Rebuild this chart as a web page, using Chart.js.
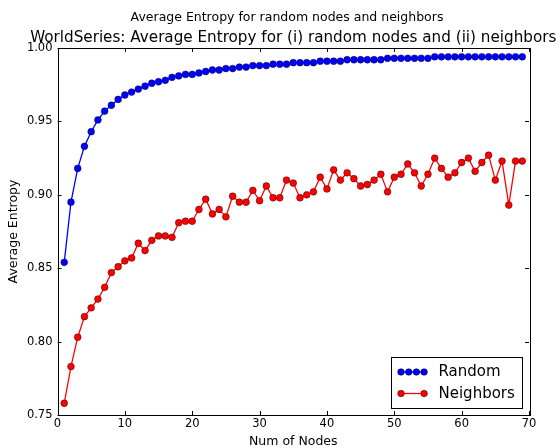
<!DOCTYPE html>
<html>
<head>
<meta charset="utf-8">
<script src="https://cdn.jsdelivr.net/npm/chart.js@4/dist/chart.umd.min.js"></script>
<style>
  html, body { margin: 0; padding: 0; background: #fff; }
  #wrap { width: 560px; height: 448px; }
</style>
</head>
<body>
<div id="wrap"><canvas id="entropyChart" width="560" height="448"></canvas></div>
<script>
// values
const nodes = [
  1, 2, 3, 4, 5, 6, 7, 8, 9, 10, 11, 12, 13, 14, 15, 16, 17, 18, 19, 20,
  21, 22, 23, 24, 25, 26, 27, 28, 29, 30, 31, 32, 33, 34, 35, 36, 37, 38, 39, 40,
  41, 42, 43, 44, 45, 46, 47, 48, 49, 50, 51, 52, 53, 54, 55, 56, 57, 58, 59, 60,
  61, 62, 63, 64, 65, 66, 67, 68, 69
];
const randomEntropy = [
  0.854, 0.895, 0.918, 0.933, 0.943, 0.951, 0.957, 0.961, 0.965, 0.968,
  0.970, 0.972, 0.974, 0.976, 0.977, 0.978, 0.980, 0.981, 0.982, 0.982,
  0.983, 0.984, 0.985, 0.985, 0.986, 0.986, 0.987, 0.987, 0.988, 0.988,
  0.988, 0.989, 0.989, 0.989, 0.990, 0.990, 0.990, 0.990, 0.991, 0.991,
  0.991, 0.991, 0.992, 0.992, 0.992, 0.992, 0.992, 0.992, 0.993, 0.993,
  0.993, 0.993, 0.993, 0.993, 0.993, 0.994, 0.994, 0.994, 0.994, 0.994,
  0.994, 0.994, 0.994, 0.994, 0.994, 0.994, 0.994, 0.994, 0.994
];
const neighborEntropy = [
  0.758, 0.783, 0.803, 0.817, 0.823, 0.829, 0.837, 0.847, 0.851, 0.855,
  0.857, 0.867, 0.862, 0.869, 0.872, 0.872, 0.871, 0.881, 0.882, 0.882,
  0.890, 0.897, 0.887, 0.890, 0.885, 0.899, 0.895, 0.895, 0.903, 0.896,
  0.906, 0.898, 0.898, 0.910, 0.908, 0.898, 0.900, 0.902, 0.912, 0.904,
  0.917, 0.910, 0.915, 0.911, 0.906, 0.907, 0.910, 0.914, 0.902, 0.912,
  0.914, 0.921, 0.915, 0.906, 0.914, 0.925, 0.918, 0.912, 0.915, 0.922,
  0.925, 0.916, 0.922, 0.927, 0.910, 0.923, 0.893, 0.923, 0.923
];
const xTicks = [0, 10, 20, 30, 40, 50, 60, 70];
const yTicks = [0.75, 0.80, 0.85, 0.90, 0.95, 1.00];
const figTitle = "Average Entropy for random nodes and neighbors";
const axTitle = "WorldSeries: Average Entropy for (i) random nodes and (ii) neighbors";

const FONT = "'DejaVu Sans', sans-serif";

// figure title + axes title (the axes title is wider than the plot, so Chart.js would squeeze it)
const titles = {
  id: "titles",
  afterDraw(chart) {
    const { ctx, chartArea: a } = chart;
    ctx.save();
    ctx.fillStyle = "#000";
    ctx.textAlign = "center";
    ctx.textBaseline = "middle";
    ctx.font = "12.5px " + FONT;
    ctx.fillText(figTitle, 287, 17.5);
    ctx.font = "15.2px " + FONT;
    ctx.fillText(axTitle, (a.left + a.right) / 2, 38.5);
    ctx.restore();
  },
};

// frame + inward ticks on all four sides, like the classic matplotlib axes
const frameTicks = {
  id: "frameTicks",
  afterDatasetsDraw(chart) {
    const { ctx, chartArea: a, scales } = chart;
    const len = 4;
    ctx.save();
    ctx.strokeStyle = "#000";
    ctx.lineWidth = 1;
    ctx.beginPath();
    xTicks.forEach((t) => {
      const px = Math.round(scales.x.getPixelForValue(t)) + 0.5;
      ctx.moveTo(px, a.bottom);
      ctx.lineTo(px, a.bottom - len);
      ctx.moveTo(px, a.top);
      ctx.lineTo(px, a.top + len);
    });
    yTicks.forEach((t) => {
      const py = Math.round(scales.y.getPixelForValue(t)) + 0.5;
      ctx.moveTo(a.left, py);
      ctx.lineTo(a.left + len, py);
      ctx.moveTo(a.right, py);
      ctx.lineTo(a.right - len, py);
    });
    ctx.stroke();
    ctx.strokeRect(Math.round(a.left) + 0.5, Math.round(a.top) + 0.5,
      Math.round(a.right - a.left), Math.round(a.bottom - a.top));
    ctx.restore();
  },
};

// legend box in the lower right corner of the plot
const cornerLegend = {
  id: "cornerLegend",
  afterDraw(chart) {
    const { ctx, chartArea: a } = chart;
    const w = 131, h = 51;
    const x0 = Math.round(a.right - 7 - w) + 0.5;
    const y0 = Math.round(a.bottom - 7 - h) + 0.5;
    ctx.save();
    ctx.fillStyle = "#fff";
    ctx.strokeStyle = "#000";
    ctx.lineWidth = 1;
    ctx.fillRect(x0, y0, w, h);
    ctx.strokeRect(x0, y0, w, h);

    const rows = [
      { label: "Random", color: "#0000ff", dots: [0, 7.7, 15.4, 23.1] },
      { label: "Neighbors", color: "#ff0000", dots: [0, 23.1] },
    ];
    rows.forEach((r, i) => {
      const cy = y0 + 14.5 + i * 21.5;
      const sx = x0 + 9.5;
      ctx.strokeStyle = r.color;
      ctx.lineWidth = 1.3;
      ctx.beginPath();
      ctx.moveTo(sx, cy);
      ctx.lineTo(sx + 23.1, cy);
      ctx.stroke();
      r.dots.forEach((d) => {
        ctx.beginPath();
        ctx.arc(sx + d, cy, 3.3, 0, Math.PI * 2);
        ctx.fillStyle = r.color;
        ctx.fill();
        ctx.strokeStyle = "#000";
        ctx.lineWidth = 0.5;
        ctx.stroke();
      });
      ctx.fillStyle = "#000";
      ctx.font = "15px " + FONT;
      ctx.textBaseline = "middle";
      ctx.textAlign = "left";
      ctx.fillText(r.label, x0 + 47, cy + 0.5);
    });
    ctx.restore();
  },
};

const ctx = document.getElementById("entropyChart").getContext("2d");
new Chart(ctx, {
  type: "line",
  data: {
    datasets: [
      {
        label: "Random",
        data: nodes.map((n, i) => ({ x: n, y: randomEntropy[i] })),
        borderColor: "#0000ff",
        backgroundColor: "#0000ff",
        pointBackgroundColor: "#0000ff",
        pointBorderColor: "#000033",
        pointBorderWidth: 0.5,
        pointRadius: 3.4,
        borderWidth: 1.3,
        tension: 0,
        order: 2,
      },
      {
        label: "Neighbors",
        data: nodes.map((n, i) => ({ x: n, y: neighborEntropy[i] })),
        borderColor: "#ff0000",
        backgroundColor: "#ff0000",
        pointBackgroundColor: "#ff0000",
        pointBorderColor: "#330000",
        pointBorderWidth: 0.5,
        pointRadius: 3.4,
        borderWidth: 1.3,
        tension: 0,
        order: 1,
      },
    ],
  },
  options: {
    responsive: false,
    animation: false,
    layout: { padding: { left: 0, right: 31, top: 48, bottom: 0 } },
    plugins: {
      legend: { display: false },
      tooltip: { enabled: false },
      title: { display: false },
    },
    scales: {
      x: {
        type: "linear",
        min: 0,
        max: 70,
        grid: { display: false, drawTicks: false },
        border: { display: false },
        afterFit(scale) { scale.height = 33; },
        ticks: {
          stepSize: 10,
          color: "#000",
          padding: 2,
          maxRotation: 0,
          font: { family: FONT, size: 11.5 },
        },
        title: {
          display: true,
          text: "Num of Nodes",
          color: "#000",
          font: { family: FONT, size: 12.5 },
          padding: { top: 0, bottom: -1.5 },
        },
      },
      y: {
        min: 0.75,
        max: 1.0,
        grid: { display: false, drawTicks: false },
        border: { display: false },
        afterFit(scale) { scale.width = 57.5; },
        ticks: {
          stepSize: 0.05,
          color: "#000",
          padding: 5,
          font: { family: FONT, size: 11.5 },
          callback: (v) => v.toFixed(2),
        },
        title: {
          display: true,
          text: "Average Entropy",
          color: "#000",
          font: { family: FONT, size: 12.5 },
          padding: { top: 6.5, bottom: 0 },
        },
      },
    },
  },
  plugins: [frameTicks, cornerLegend, titles],
});
</script>
</body>
</html>
